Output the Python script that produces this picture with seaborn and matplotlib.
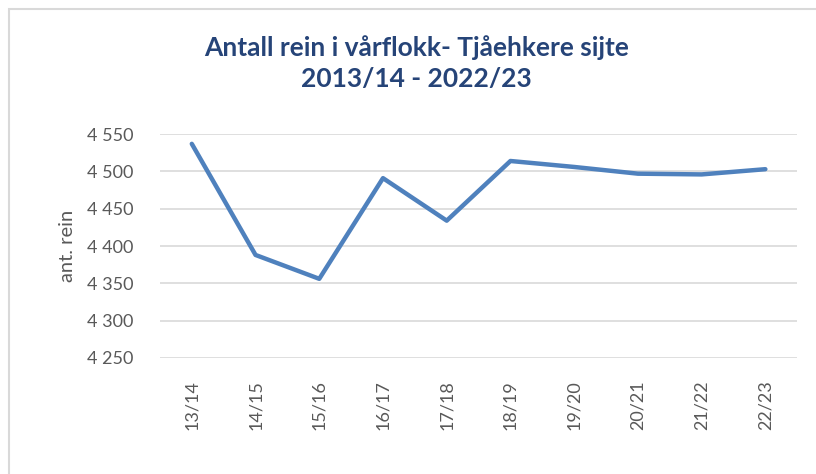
import numpy as np
import pandas as pd
import matplotlib
matplotlib.use("Agg")
import matplotlib.pyplot as plt
import seaborn as sns
from matplotlib.patches import Rectangle

seasons = ["13/14", "14/15", "15/16", "16/17", "17/18",
           "18/19", "19/20", "20/21", "21/22", "22/23"]
reindeer = [4537, 4388, 4356, 4491, 4434, 4514, 4506, 4497, 4496, 4503]
y_ticks = [4250, 4300, 4350, 4400, 4450, 4500, 4550]

sns.set_theme(style="white")
plt.rcParams["font.family"] = ["Lato", "DejaVu Sans"]

df = pd.DataFrame({"season": seasons, "rein": reindeer})

fig = plt.figure(figsize=(8.16, 4.74), dpi=100)
ax = fig.add_axes([0.196, 0.245, 0.781, 0.472])

sns.lineplot(data=df, x="season", y="rein", ax=ax, color="#4F81BD",
             linewidth=3.2, solid_capstyle="round", solid_joinstyle="round")

ax.set_ylim(4250, 4550)
ax.set_yticks(y_ticks)
ax.set_yticklabels([f"{v:,}".replace(",", " ") for v in y_ticks])
ax.set_xlim(-0.5, len(seasons) - 0.5)
ax.grid(axis="y", color="#D9D9D9", linewidth=1.2)
ax.set_axisbelow(True)
for s in ax.spines.values():
    s.set_visible(False)

ax.tick_params(axis="y", length=0, labelsize=13, colors="#595959", pad=19)
ax.tick_params(axis="x", length=0, labelsize=13, colors="#595959", pad=16)
plt.setp(ax.get_xticklabels(), rotation=90)
ax.set_xlabel("")
ax.set_ylabel("ant. rein", fontsize=14.5, color="#595959", labelpad=8)

fig.suptitle("Antall rein i vårflokk- Tjåehkere sijte\n2013/14 - 2022/23",
             x=0.51, y=0.925, fontsize=19, fontweight="bold", color="#264478",
             linespacing=1.35)

fig.patches.append(Rectangle((0.011, -0.05), 1.1, 1.031, transform=fig.transFigure,
                             fill=False, edgecolor="#D9D9D9", linewidth=1.5))

fig.savefig("out.png", dpi=100)
